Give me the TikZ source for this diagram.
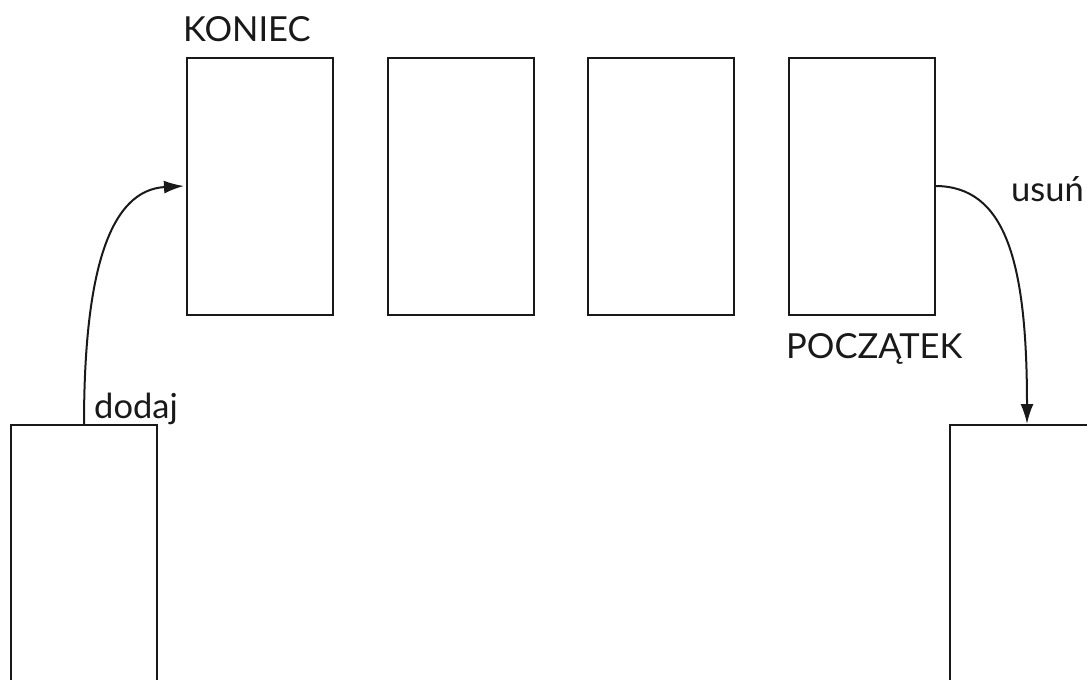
\documentclass[tikz,border=0pt]{standalone}
\usepackage{fontspec}
\setmainfont{Lato}
\usetikzlibrary{arrows.meta}
\begin{document}
\begin{tikzpicture}[x=1pt,y=-1pt,
  box/.style={draw=black!90,line width=2pt,minimum width=146pt,minimum height=257pt,inner sep=0pt,outer sep=0pt},
  tall/.style={draw=black!90,line width=2pt,minimum height=300pt,inner sep=0pt,outer sep=0pt},
  lbl/.style={font=\fontsize{34.5}{40}\selectfont,text=black!90,inner sep=0pt},
  conn/.style={draw=black!90,line width=2pt,-{Latex[length=20pt,width=13pt]}}]
\clip (0,0) rectangle (1087,680);
\fill[white] (0,0) rectangle (1087,680);
\node[box] (b1) at (260,186.5) {};
\node[box] (b2) at (461,186.5) {};
\node[box] (b3) at (661,186.5) {};
\node[box] (b4) at (862,186.5) {};
\node[tall,minimum width=146pt,anchor=north west] (src) at (11,425) {};
\node[tall,minimum width=160pt,anchor=north west] (dst) at (950,425) {};
\node[lbl,anchor=base west] (koniec) at (183,41) {KONIEC};
\node[lbl,anchor=base west] (poczatek) at (786,358) {POCZĄTEK};
\node[lbl,anchor=base west] (dodaj) at (94,418) {dodaj};
\node[lbl,anchor=base west] (usun) at (1011,201) {usuń};
\coordinate (s1) at (84,425);
\coordinate (e1) at (184,186);
\coordinate (s2) at (935,186);
\coordinate (e2) at (1027,424);
\draw[conn] (s1) .. controls (84,270) and (110,190) .. (e1);
\draw[conn] (s2) .. controls (1005,186) and (1027,260) .. (e2);
\end{tikzpicture}
\end{document}
